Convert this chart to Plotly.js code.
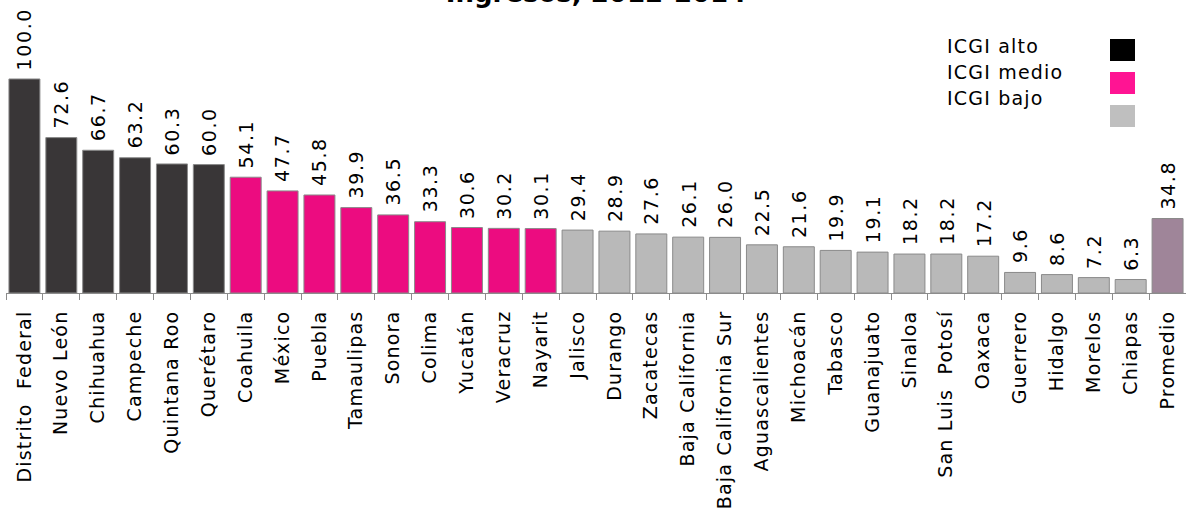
<!DOCTYPE html>
<html>
<head>
<meta charset="utf-8">
<script src="https://cdn.plot.ly/plotly-3.0.1.min.js"></script>
<style>
html,body{margin:0;padding:0;background:#fff;}
#chart{width:1186px;height:514px;}
.xtick text{letter-spacing:1.2px;}
</style>
</head>
<body>
<div id="chart"></div>
<script>
const estados = ["Distrito\u00a0\u00a0Federal","Nuevo León","Chihuahua","Campeche","Quintana Roo","Querétaro","Coahuila","México","Puebla","Tamaulipas","Sonora","Colima","Yucatán","Veracruz","Nayarit","Jalisco","Durango","Zacatecas","Baja California","Baja California Sur","Aguascalientes","Michoacán","Tabasco","Guanajuato","Sinaloa","San Luis\u00a0\u00a0Potosí","Oaxaca","Guerrero","Hidalgo","Morelos","Chiapas","Promedio"];
const valores = [100.0,72.6,66.7,63.2,60.3,60.0,54.1,47.7,45.8,39.9,36.5,33.3,30.6,30.2,30.1,29.4,28.9,27.6,26.1,26.0,22.5,21.6,19.9,19.1,18.2,18.2,17.2,9.6,8.6,7.2,6.3,34.8];
const grupos = ["alto","alto","alto","alto","alto","alto","medio","medio","medio","medio","medio","medio","medio","medio","medio","bajo","bajo","bajo","bajo","bajo","bajo","bajo","bajo","bajo","bajo","bajo","bajo","bajo","bajo","bajo","bajo","promedio"];
const leyendaTextos = ["ICGI alto","ICGI medio","ICGI bajo"];
const leyendaGrupos = ["alto","medio","bajo"];
const titulo = "Ingresos, 2012-2014";

const FONT = "DejaVu Sans";
const colorBarra = {alto:"#393637", medio:"#EC0C80", bajo:"#B9B9B9", promedio:"#9F8599"};
const colorLeyenda = {alto:"#000000", medio:"#FF1493", bajo:"#BFBFBF"};

const trace = {
  type: "bar",
  x: estados,
  y: valores,
  marker: {color: grupos.map(g => colorBarra[g]), line: {color: "#8a8a8a", width: 1}},
  hoverinfo: "x+y",
  showlegend: false
};

const annotations = estados.map((e, i) => ({
  x: e, y: valores[i], xref: "x", yref: "y",
  text: '<span style="letter-spacing:1.6px">' + valores[i].toFixed(1) + '</span>',
  showarrow: false, textangle: -90,
  xanchor: "center", yanchor: "bottom", yshift: 7,
  font: {family: FONT, size: 19, color: "#000"}
}));

const shapes = [];
leyendaTextos.forEach((t, i) => {
  const yc = 1 - (46 + i * 26) / 293;
  annotations.push({
    xref: "paper", yref: "paper", x: (945 - 6) / 1180, y: yc,
    xanchor: "left", yanchor: "middle", showarrow: false,
    text: '<span style="letter-spacing:1.2px">' + t + '</span>',
    font: {family: FONT, size: 19, color: "#000"}
  });
  shapes.push({
    type: "rect", xref: "paper", yref: "paper",
    x0: (1110 - 6) / 1180, x1: (1135 - 6) / 1180,
    y0: 1 - (39 + i * 33 + 22) / 293, y1: 1 - (39 + i * 33) / 293,
    fillcolor: colorLeyenda[leyendaGrupos[i]], line: {width: 0}
  });
});

const layout = {
  width: 1186, height: 514,
  margin: {l: 6, r: 0, t: 0, b: 221},
  paper_bgcolor: "#fff", plot_bgcolor: "#fff",
  bargap: 0.16,
  title: {text: "<b>" + titulo + "</b>", xref: "paper", x: 0.5, xanchor: "center", yref: "container", y: 0.996, yanchor: "bottom",
          font: {family: FONT, size: 26, color: "#000"}},
  xaxis: {
    type: "category", tickangle: -90, showgrid: false, zeroline: false,
    showline: true, linecolor: "#8c8c8c", linewidth: 1,
    ticks: "outside", tickson: "boundaries", ticklen: 6, tickcolor: "#8c8c8c",
    ticklabelstandoff: 9,
    tickfont: {family: FONT, size: 19, color: "#000"}
  },
  yaxis: {range: [0, 136.9], visible: false, fixedrange: true},
  annotations: annotations,
  shapes: shapes
};

Plotly.newPlot("chart", [trace], layout, {displayModeBar: false, staticPlot: true});
</script>
</body>
</html>
